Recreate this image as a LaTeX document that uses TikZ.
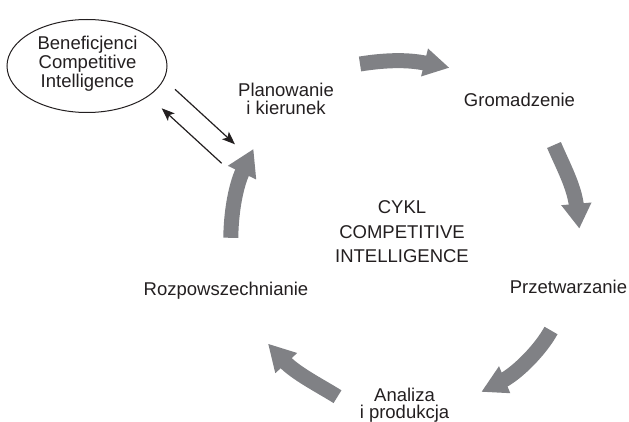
\documentclass[tikz,border=0pt]{standalone}
\usepackage{fontspec}
\setmainfont{Liberation Sans}
\usetikzlibrary{arrows.meta,shapes.geometric}
\definecolor{cgrey}{RGB}{128,129,133}
\definecolor{ink}{RGB}{35,31,32}
\begin{document}
\begin{tikzpicture}[x=1pt,y=-1pt,
  lbl/.style={font=\fontsize{18.5}{18.5}\selectfont, text=ink, inner sep=0pt, anchor=base},
  shaft/.style={draw=cgrey, line width=15pt},
  head/.style={fill=cgrey},
  thinarr/.style={draw=ink, line width=1.2pt, -{Stealth[length=13pt,width=10pt,inset=3pt]}},
]
\useasboundingbox (0,0) rectangle (629,422);
% beneficiaries ellipse
\node[draw=ink, line width=1pt, ellipse, minimum width=160pt, minimum height=93pt, inner sep=0pt] (ben) at (87,66) {};
\node[lbl] (benA) at (87.5,50) {Beneficjenci};
\node[lbl] (benB) at (87.5,69) {Competitive};
\node[lbl] (benC) at (87.5,87.5) {Intelligence};
% stages
\node[lbl] (planA) at (286,96.5) {Planowanie};
\node[lbl] (planB) at (286,114.5) {i kierunek};
\node[lbl] (grom) at (519.5,107) {Gromadzenie};
\node[lbl] (prze) at (568.5,293.3) {Przetwarzanie};
\node[lbl] (anaA) at (404.5,401.5) {Analiza};
\node[lbl] (anaB) at (404.5,418.2) {i produkcja};
\node[lbl] (rozp) at (226,295) {Rozpowszechnianie};
% centre
\node[lbl] (cykA) at (402,214) {CYKL};
\node[lbl] (cykB) at (402,238.3) {COMPETITIVE};
\node[lbl] (cykC) at (402,262.3) {INTELLIGENCE};
% big arrow 1 (top)
\coordinate (t1) at (360,64); \coordinate (e1) at (427,63.5);
\coordinate (h1) at (449,67.7); \coordinate (w1a) at (428,48.5); \coordinate (w1b) at (421,76.5);
\draw[shaft] (t1) .. controls (385,60) and (408,59.3) .. (e1);
\fill[head] (w1a) -- (h1) -- (w1b) -- cycle;
% big arrow 2 (right upper)
\coordinate (t2) at (554,145); \coordinate (e2) at (576.5,206);
\coordinate (h2) at (579.3,228.3); \coordinate (w2a) at (561.2,205.2); \coordinate (w2b) at (591.5,202.5);
\draw[shaft] (t2) .. controls (563,166) and (574,186) .. (e2);
\fill[head] (w2a) -- (h2) -- (w2b) -- cycle;
% big arrow 3 (right lower)
\coordinate (t3) at (551,330.5); \coordinate (e3) at (502,381);
\coordinate (h3) at (481.7,391.7); \coordinate (w3a) at (499,366.2); \coordinate (w3b) at (510.3,393.2);
\draw[shaft] (t3) .. controls (541,349) and (518,372.7) .. (e3);
\fill[head] (w3a) -- (h3) -- (w3b) -- cycle;
% big arrow 4 (bottom left)
\coordinate (t4) at (337.5,396.7); \coordinate (e4) at (284,361);
\coordinate (h4) at (268.3,344); \coordinate (w4a) at (297.2,353); \coordinate (w4b) at (275.3,373.2);
\draw[shaft] (t4) .. controls (320.5,386) and (296,373.7) .. (e4);
\fill[head] (w4a) -- (h4) -- (w4b) -- cycle;
% big arrow 5 (left)
\coordinate (t5) at (230.8,237.8); \coordinate (e5) at (243,170.5);
\coordinate (h5) at (253.3,149.3); \coordinate (w5a) at (227.8,165.8); \coordinate (w5b) at (256.2,179.5);
\draw[shaft] (t5) .. controls (231,215) and (235,187.5) .. (e5);
\fill[head] (w5a) -- (h5) -- (w5b) -- cycle;
% thin arrows
\coordinate (a1) at (175,89.3);  \coordinate (a2) at (235,144.3);
\coordinate (b1) at (221.7,163.3); \coordinate (b2) at (161.7,108.3);
\draw[thinarr] (a1) -- (a2);
\draw[thinarr] (b1) -- (b2);
\end{tikzpicture}
\end{document}
